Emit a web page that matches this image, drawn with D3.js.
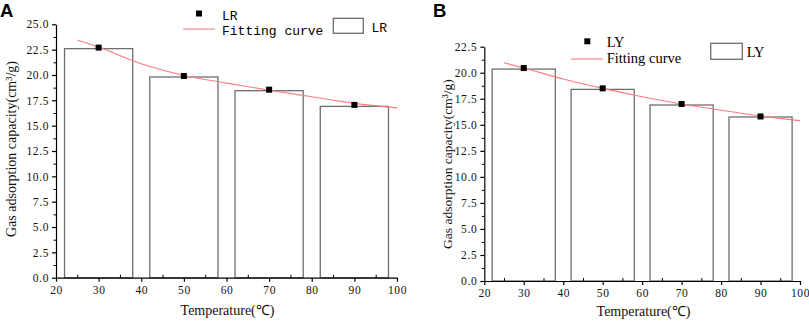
<!DOCTYPE html>
<html>
<head>
<meta charset="utf-8">
<script src="https://cdn.jsdelivr.net/npm/d3@7"></script>
<style>
  html, body { margin: 0; padding: 0; background: #fff; }
  svg { display: block; }
  .tick text { font-family: "Liberation Serif", serif; font-size: 11.5px; letter-spacing: 0.6px; fill: #111; }
  .axis-title { font-family: "Liberation Serif", serif; fill: #111; }
  .panel-label { font-family: "Liberation Sans", Arial, sans-serif; font-weight: bold; font-size: 18.5px; fill: #000; }
</style>
</head>
<body>
<div id="chart"></div>
<script>
/* ── Gas adsorption vs temperature — two panels ───────── */
(function () {
  "use strict";

  // ── Data ──────────────────────────────────────────
  const TEMPS = [30, 50, 70, 90];
  const X_TICKS = [20, 30, 40, 50, 60, 70, 80, 90, 100];

  // panel A (LR)
  const LR_BARS = [22.6, 19.8, 18.45, 16.9];
  const LR_POINTS = [22.7, 19.9, 18.55, 17.05];
  const LR_FIT_T = [25, 30, 40, 50, 60, 70, 80, 90, 100];
  const LR_FIT_V = [23.45, 22.75, 21.1, 19.95, 19.2, 18.5, 17.85, 17.2, 16.75];
  const LR_Y_TICKS = [0, 2.5, 5, 7.5, 10, 12.5, 15, 17.5, 20, 22.5, 25];

  // panel B (LY)
  const LY_BARS = [20.35, 18.4, 16.9, 15.75];
  const LY_POINTS = [20.45, 18.5, 17.0, 15.8];
  const LY_FIT_T = [25, 30, 40, 50, 60, 70, 80, 90, 100];
  const LY_FIT_V = [20.95, 20.45, 19.4, 18.5, 17.7, 17.0, 16.4, 15.85, 15.4];
  const LY_Y_TICKS = [0, 2.5, 5, 7.5, 10, 12.5, 15, 17.5, 20, 22.5];

  // ── Config ────────────────────────────────────────
  const W = 809, H = 321;
  const BAR_HALF = 8;            // bars span ±8 °C around centre
  const BAR_STROKE = "#6e6e6e";
  const FIT_COLOR = "#ff7b7b";

  const svg = d3.select("#chart").append("svg")
    .attr("width", W).attr("height", H);

  const panels = [
    {
      label: "A", labelX: 0,
      xRange: [56, 397], yRange: [277.7, 24.3], yMax: 25,
      yTicks: LR_Y_TICKS,
      bars: LR_BARS, points: LR_POINTS, fitT: LR_FIT_T, fitV: LR_FIT_V,
      yTitle: { x: 16, y: 149, size: 14 },
      xTitle: { x: 227.5, y: 315 },
      legend: {
        name: "LR", font: "Liberation Mono", size: 13,
        marker: [199, 13.5], nameAt: [222, 19.5],
        line: [183, 215, 29], fitAt: [222, 34.5],
        box: [333.3, 18.3, 30, 15], boxText: [371.5, 31.5]
      }
    },
    {
      label: "B", labelX: 433,
      xRange: [484.3, 800], yRange: [281, 46.7], yMax: 22.5,
      yTicks: LY_Y_TICKS,
      bars: LY_BARS, points: LY_POINTS, fitT: LY_FIT_T, fitV: LY_FIT_V,
      yTitle: { x: 452, y: 164, size: 13.5 },
      xTitle: { x: 643.5, y: 316 },
      legend: {
        name: "LY", font: "Liberation Serif", size: 14.5,
        marker: [587.3, 41.3], nameAt: [606.7, 47],
        line: [571, 603, 59], fitAt: [606.7, 63],
        box: [710.7, 43.3, 31.6, 16], boxText: [746.7, 57]
      }
    }
  ];

  panels.forEach(drawPanel);

  // ── Panel ─────────────────────────────────────────
  function drawPanel(p) {
    const x = d3.scaleLinear().domain([20, 100]).range(p.xRange);
    const y = d3.scaleLinear().domain([0, p.yMax]).range(p.yRange);
    const g = svg.append("g");

    // bars
    g.selectAll("rect.bar").data(TEMPS.map((t, i) => ({ t, v: p.bars[i] })))
      .enter().append("rect")
      .attr("class", "bar")
      .attr("x", d => x(d.t - BAR_HALF))
      .attr("width", d => x(d.t + BAR_HALF) - x(d.t - BAR_HALF))
      .attr("y", d => y(d.v))
      .attr("height", d => y(0) - y(d.v))
      .attr("fill", "#fff")
      .attr("stroke", BAR_STROKE)
      .attr("stroke-width", 1.3);

    // fitting curve
    const line = d3.line()
      .x(d => x(d[0]))
      .y(d => y(d[1]))
      .curve(d3.curveMonotoneX);
    g.append("path")
      .datum(p.fitT.map((t, i) => [t, p.fitV[i]]))
      .attr("d", line)
      .attr("fill", "none")
      .attr("stroke", FIT_COLOR)
      .attr("stroke-width", 1.1);

    // points
    g.selectAll("rect.pt").data(TEMPS.map((t, i) => ({ t, v: p.points[i] })))
      .enter().append("rect")
      .attr("class", "pt")
      .attr("x", d => x(d.t) - 3)
      .attr("y", d => y(d.v) - 3)
      .attr("width", 6).attr("height", 6)
      .attr("fill", "#000");

    // axes: minor ticks first, then majors
    const minorX = d3.range(25, 100, 10);
    const minorY = p.yTicks.slice(0, -1).map(v => v + 1.25);

    g.append("g")
      .attr("transform", `translate(0,${y(0)})`)
      .call(d3.axisBottom(x).tickValues(minorX).tickSize(-3).tickFormat(""))
      .call(s => s.select(".domain").remove());
    g.append("g")
      .attr("transform", `translate(${x(20)},0)`)
      .call(d3.axisLeft(y).tickValues(minorY).tickSize(2.5).tickFormat(""))
      .call(s => s.select(".domain").remove());

    const gx = g.append("g")
      .attr("transform", `translate(0,${y(0)})`)
      .call(d3.axisBottom(x).tickValues(X_TICKS).tickSize(4).tickSizeOuter(0).tickPadding(4).tickFormat(d3.format("d")));
    const gy = g.append("g")
      .attr("transform", `translate(${x(20)},0)`)
      .call(d3.axisLeft(y).tickValues(p.yTicks).tickSize(4).tickSizeOuter(0).tickPadding(3).tickFormat(d3.format(".1f")));

    [gx, gy].forEach(a => {
      a.selectAll("line, path").attr("stroke", "#000").attr("stroke-width", 1.2);
    });

    // titles
    g.append("text")
      .attr("class", "axis-title")
      .attr("x", p.xTitle.x).attr("y", p.xTitle.y)
      .attr("text-anchor", "middle")
      .style("font-size", "14px")
      .text("Temperature(℃)");

    g.append("text")
      .attr("class", "axis-title")
      .attr("transform", `translate(${p.yTitle.x},${p.yTitle.y}) rotate(-90)`)
      .attr("text-anchor", "middle")
      .style("font-size", p.yTitle.size + "px")
      .text("Gas adsorption capacity(cm³/g)");

    g.append("text")
      .attr("class", "panel-label")
      .attr("x", p.labelX).attr("y", 17)
      .text(p.label);

    drawLegend(g, p.legend);
  }

  // ── Legend ────────────────────────────────────────
  function drawLegend(g, L) {
    const font = `${L.font}, serif`;

    g.append("rect")
      .attr("x", L.marker[0] - 3).attr("y", L.marker[1] - 3)
      .attr("width", 6).attr("height", 6)
      .attr("fill", "#000");
    g.append("text")
      .attr("x", L.nameAt[0]).attr("y", L.nameAt[1])
      .style("font-family", font).style("font-size", L.size + "px")
      .text(L.name);

    g.append("line")
      .attr("x1", L.line[0]).attr("x2", L.line[1])
      .attr("y1", L.line[2]).attr("y2", L.line[2])
      .attr("stroke", FIT_COLOR).attr("stroke-width", 1.1);
    g.append("text")
      .attr("x", L.fitAt[0]).attr("y", L.fitAt[1])
      .style("font-family", font).style("font-size", L.size + "px")
      .text("Fitting curve");

    g.append("rect")
      .attr("x", L.box[0]).attr("y", L.box[1])
      .attr("width", L.box[2]).attr("height", L.box[3])
      .attr("fill", "#fff")
      .attr("stroke", BAR_STROKE).attr("stroke-width", 1.3);
    g.append("text")
      .attr("x", L.boxText[0]).attr("y", L.boxText[1])
      .style("font-family", font).style("font-size", L.size + "px")
      .text(L.name);
  }
})();
</script>
</body>
</html>
